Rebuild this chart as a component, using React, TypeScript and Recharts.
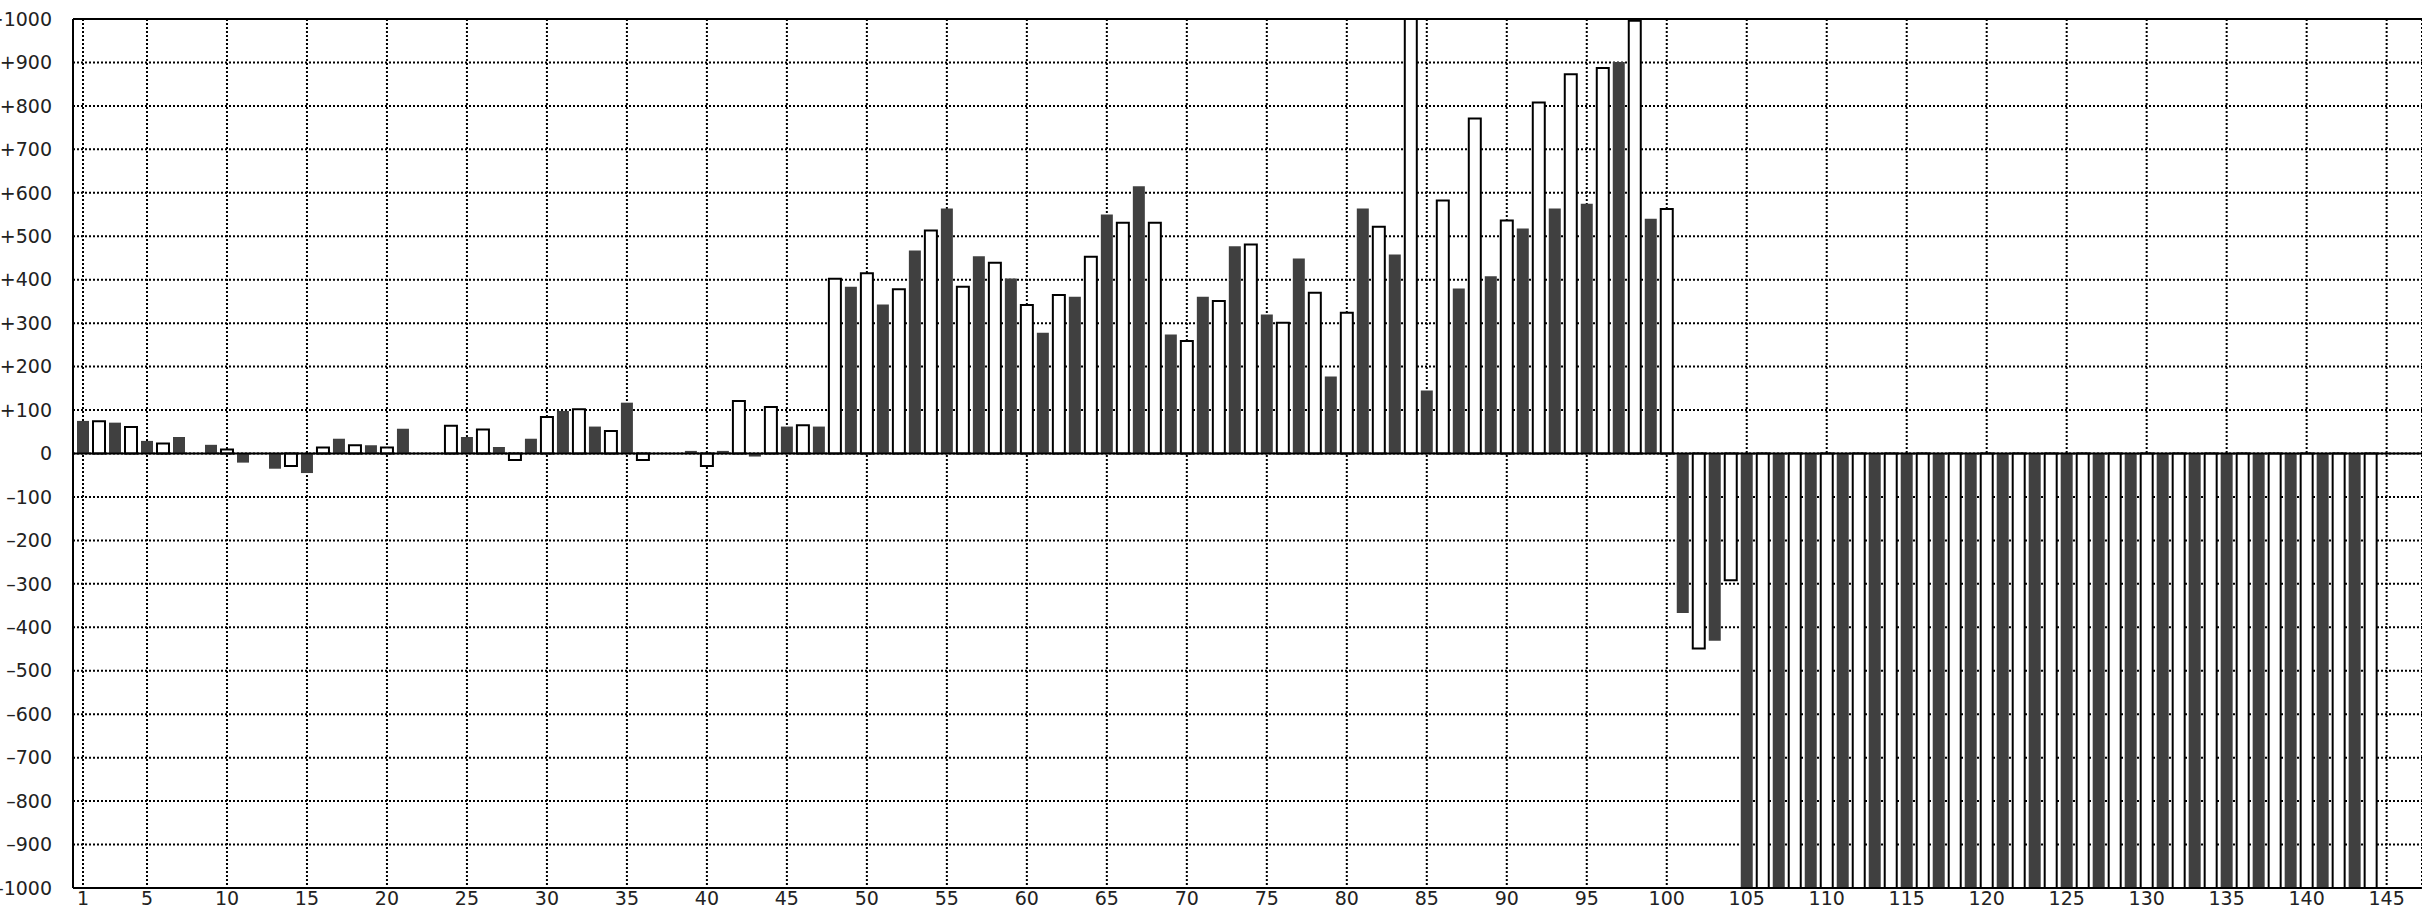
import { Bar, BarChart, CartesianGrid, ReferenceLine, XAxis, YAxis } from "recharts";

// odd positions 1, 3, ..., 145 (dark bars)
const darkValues = [
  75, 71, 29, 38, 20, -21, -35, -45, 34, 19, 57, 0, 38, 15, 34, 98, 62, 117, 0, 6, 6, -7, 62, 62,
  384, 343, 467, 564, 454, 403, 278, 361, 550, 615, 274, 361, 477, 320, 449, 177, 564, 458, 145,
  380, 408, 518, 564, 575, 901, 540, -367, -431,
  -1000, -1000, -1000, -1000, -1000, -1000, -1000, -1000, -1000, -1000,
  -1000, -1000, -1000, -1000, -1000, -1000, -1000, -1000, -1000, -1000,
  0,
];

// even positions 2, 4, ..., 144 (outlined bars)
const lightValues = [
  74, 61, 23, 0, 9, 0, -29, 14, 19, 14, 0, 64, 55, -15, 84, 102, 52, -15, 0, -29, 121, 107, 65,
  402, 415, 378, 513, 384, 439, 342, 365, 453, 531, 531, 259, 351, 481, 301, 370, 324, 522, 1000,
  582, 771, 536, 808, 873, 887, 996, 563, -449, -292,
  -1000, -1000, -1000, -1000, -1000, -1000, -1000, -1000, -1000, -1000,
  -1000, -1000, -1000, -1000, -1000, -1000, -1000, -1000, -1000, -1000,
];

const xTicks = [1, 5, 10, 15, 20, 25, 30, 35, 40, 45, 50, 55, 60, 65, 70, 75, 80, 85, 90, 95, 100, 105, 110, 115, 120, 125, 130, 135, 140, 145];
const yTicks = [-1000, -900, -800, -700, -600, -500, -400, -300, -200, -100, 0, 100, 200, 300, 400, 500, 600, 700, 800, 900, 1000];

const positions = Array.from({ length: darkValues.length + lightValues.length }, (_, i) => i + 1);

const data = positions.map((x) => ({
  x,
  dark: x % 2 === 1 ? darkValues[(x - 1) / 2] : null,
  light: x % 2 === 0 ? lightValues[x / 2 - 1] : null,
}));

const fmtY = (v: number) => (v > 0 ? `+${v}` : v < 0 ? `\u2013${-v}` : "0");

const tickStyle = { fontSize: 19, fill: "#222", fontFamily: "DejaVu Sans" };

export default function App() {
  return (
    <div style={{ position: "absolute", left: 0, top: 0, width: 2422, height: 908, overflow: "hidden", background: "#fff" }}>
      <BarChart width={2422} height={908} data={data} margin={{ top: 19, right: 0, bottom: 0, left: 0 }}>
        <CartesianGrid stroke="#000" strokeWidth={2} strokeDasharray="2 2" />
        <XAxis
          dataKey="x"
          type="number"
          domain={[0.375, 147.21]}
          allowDataOverflow
          ticks={xTicks}
          interval={0}
          height={20}
          tick={tickStyle}
          tickLine={false}
          tickSize={2}
          tickMargin={2}
          axisLine={{ stroke: "#000", strokeWidth: 2 }}
        />
        <YAxis
          type="number"
          domain={[-1000, 1000]}
          allowDataOverflow
          ticks={yTicks}
          interval={0}
          width={73}
          tick={tickStyle}
          tickFormatter={fmtY}
          tickLine={false}
          tickSize={19}
          tickMargin={2}
          axisLine={{ stroke: "#000", strokeWidth: 2 }}
        />
        <Bar dataKey="dark" stackId="s" barSize={12} fill="#404040" isAnimationActive={false} />
        <Bar dataKey="light" stackId="s" barSize={12} fill="#fff" stroke="#000" strokeWidth={2} isAnimationActive={false} />
        <ReferenceLine y={0} stroke="#000" strokeWidth={2} />
        <ReferenceLine y={1000} stroke="#000" strokeWidth={2} />
      </BarChart>
    </div>
  );
}
